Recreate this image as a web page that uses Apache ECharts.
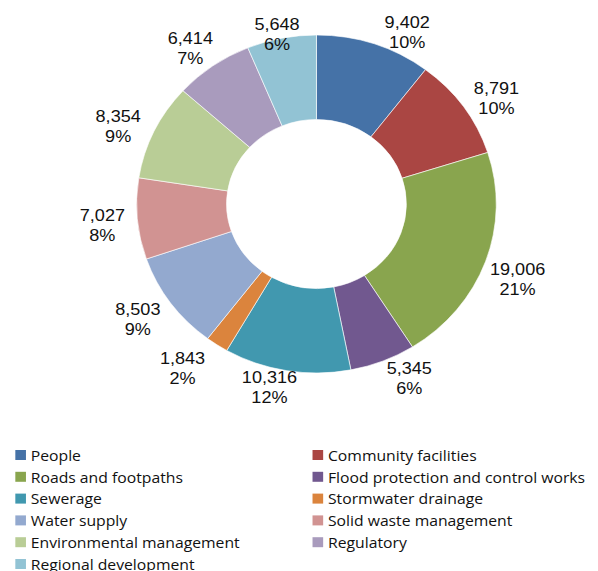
<!DOCTYPE html>
<html>
<head>
<meta charset="utf-8">
<script src="https://cdn.jsdelivr.net/npm/echarts@6/dist/echarts.min.js"></script>
<style>
  html, body { margin: 0; padding: 0; background: #fff; }
  #wrap { width: 598px; height: 571px; overflow: hidden; }
  /* the chart is laid out a little narrower and stretched to full width */
  #chart { width: 562px; height: 610px; transform: scaleX(1.06406); transform-origin: 0 0; }
</style>
</head>
<body>
<div id="wrap"><div id="chart"></div></div>
<script>
// Spending by activity ($000)
const categories = [
  'People', 'Community facilities', 'Roads and footpaths',
  'Flood protection and control works', 'Sewerage', 'Stormwater drainage',
  'Water supply', 'Solid waste management', 'Environmental management',
  'Regulatory', 'Regional development'
];
const values = [9402, 8791, 19006, 5345, 10316, 1843, 8503, 7027, 8354, 6414, 5648];
const shares = [10, 10, 21, 6, 12, 2, 9, 8, 9, 7, 6];
const colors = [
  '#4572A7', '#AA4643', '#89A54E', '#71588F', '#4198AF', '#DB843D',
  '#93A9CF', '#D19392', '#B9CD96', '#A99BBD', '#92C3D4'
];

// ring geometry (chart coordinates)
const CX = 297.4, CY = 204, R_OUT = 169, R_IN = 84.5;
const LABEL_GAP = 3, TOP_MIN = 10;
// hand-placed offsets of the data labels, per slice
const labelNudge = [
  [22, 2], [5, 10], [-2, 6], [14, -10], [-12, -10], [-15, -3],
  [-5, -3], [-7, 4], [-6, 8], [-3, 8], [1, 4]
];

const total = values.reduce((a, b) => a + b, 0);
const midAngles = [];
let acc = 0;
values.forEach(v => { midAngles.push((acc + v / 2) / total * 2 * Math.PI); acc += v; });

const fmt = v => v.toLocaleString('en-US');

const leftNames = categories.filter((_, i) => i % 2 === 0);
const rightNames = categories.filter((_, i) => i % 2 === 1);

const legendBase = {
  orient: 'vertical',
  top: 447,
  height: 160,
  padding: 0,
  icon: 'rect',
  itemWidth: 10,
  itemHeight: 10,
  itemGap: 5.8,
  itemStyle: { borderWidth: 0 },
  selectedMode: false,
  textStyle: {
    fontFamily: 'Open Sans',
    fontSize: 14.8,
    lineHeight: 16,
    color: '#111',
    padding: [0, 0, 0, -0.5]
  }
};

const chart = echarts.init(document.getElementById('chart'), null, { renderer: 'svg' });
chart.setOption({
  animation: false,
  color: colors,
  legend: [
    Object.assign({}, legendBase, { left: 14.4, data: leftNames }),
    Object.assign({}, legendBase, { left: 293.7, data: rightNames })
  ],
  series: [{
    type: 'pie',
    center: [CX, CY],
    radius: [R_IN, R_OUT],
    startAngle: 90,
    clockwise: true,
    avoidLabelOverlap: false,
    itemStyle: { borderColor: '#fff', borderWidth: 0.6 },
    label: {
      show: true,
      position: 'outside',
      fontFamily: 'Liberation Sans',
      fontSize: 17,
      lineHeight: 20,
      color: '#111',
      formatter: p => fmt(values[p.dataIndex]) + '\n' + shares[p.dataIndex] + '%'
    },
    labelLine: { show: false },
    labelLayout: function (p) {
      const i = p.dataIndex;
      const t = midAngles[i];
      const w = p.labelRect.width, h = p.labelRect.height;
      const s = Math.sin(t), c = Math.cos(t);
      const d = R_OUT + LABEL_GAP + Math.abs(s) * w / 2 + Math.abs(c) * h / 2;
      const x = CX + d * s + labelNudge[i][0];
      const y = Math.max(CY - d * c, TOP_MIN + h / 2) + labelNudge[i][1];
      return { x: x, y: y, align: 'center', verticalAlign: 'middle' };
    },
    emphasis: { disabled: true },
    data: categories.map((name, i) => ({ name: name, value: values[i] }))
  }]
});
</script>
</body>
</html>
